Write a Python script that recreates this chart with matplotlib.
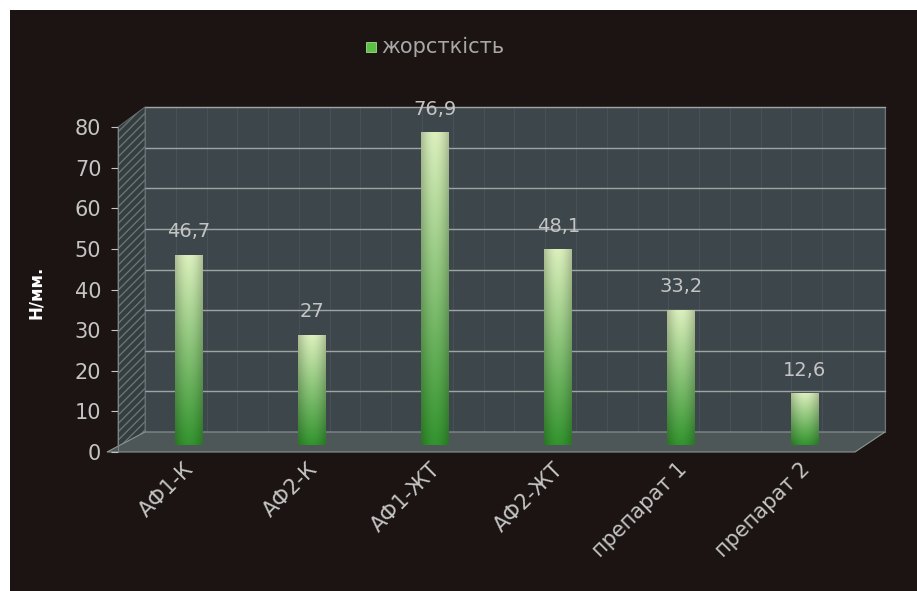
import numpy as np
import matplotlib
matplotlib.use("Agg")
import matplotlib.pyplot as plt
from matplotlib.transforms import ScaledTranslation, IdentityTransform
from matplotlib.patches import Polygon, Rectangle

# -------- data ---------------------------------------------------------
categories = ["АФ1-К", "АФ2-К", "АФ1-ЖТ", "АФ2-ЖТ", "препарат 1", "препарат 2"]
values = [46.7, 27, 76.9, 48.1, 33.2, 12.6]
value_labels = ["46,7", "27", "76,9", "48,1", "33,2", "12,6"]
yticks = [0, 10, 20, 30, 40, 50, 60, 70, 80]
series_name = "жорсткість"
ylabel = "Н/мм."

# -------- style --------------------------------------------------------
BG = "#1b1412"
WALL = "#3d474b"
FLOOR = "#4d5758"
GRID = "#9ea4a4"
TXT = "#c4c4c4"
plt.rcParams["font.family"] = ["DejaVu Sans"]

fig = plt.figure(figsize=(9.17, 5.91), dpi=100, facecolor="white")
# dark panel (white margin on top / left as in the scan)
fig.patches.append(Rectangle((0.011, 0.0), 0.989, 0.983, transform=fig.transFigure,
                             facecolor=BG, edgecolor="none", zorder=-10))

W, H = 917, 591
ax = fig.add_axes([118 / W, (H - 452) / H, (858 - 118) / W, (452 - 127) / H])
ax.set_facecolor("none")
ax.set_xlim(-0.47, 5.54)
ax.set_ylim(0, 80)
for s in ax.spines.values():
    s.set_visible(False)

px = fig.dpi_scale_trans
dx, dy = 27, 20
back = ax.transData + ScaledTranslation(dx / 100, dy / 100, px)
back_ax = ax.transAxes + ScaledTranslation(dx / 100, dy / 100, px)
bar_tr = ax.transData + ScaledTranslation(13 / 100, 7 / 100, px)

# back wall
ax.add_patch(Rectangle((0, 0), 1, 1, transform=back_ax, facecolor=WALL,
                       edgecolor="#6a7474", lw=0.8, zorder=0, clip_on=False))
# faint vertical texture lines on the wall
x0, x1 = ax.get_xlim()
for xv in np.arange(x0, x1, 0.25):
    ax.plot([xv, xv], [0, 80], transform=back, color="#56616a", lw=0.5,
            zorder=0.5, clip_on=False, alpha=0.6)
# horizontal gridlines on the wall
for yv in yticks[1:]:
    ax.plot([x0, x1], [yv, yv], transform=back, color=GRID, lw=1.0,
            zorder=1, clip_on=False)

# left side wall (hatched) and floor, in pixel coordinates
to_px = lambda xa, ya: ax.transAxes.transform((xa, ya))
p0 = to_px(0, 0)
p1 = to_px(0, 1)
side = Polygon([p0, p1, (p1[0] + dx, p1[1] + dy), (p0[0] + dx, p0[1] + dy)],
               closed=True, transform=IdentityTransform(), facecolor="#343d40",
               edgecolor="#6a7473", hatch="////", lw=0.6, zorder=1.2,
               clip_on=False)
ax.add_patch(side)
q1 = to_px(1, 0)
floor = Polygon([(p0[0] - 11, p0[1]), (q1[0] - 3, q1[1]),
                 (q1[0] + dx, q1[1] + dy), (p0[0] + dx, p0[1] + dy)],
                closed=True, transform=IdentityTransform(), facecolor=FLOOR,
                edgecolor="#8c9494", lw=0.8, zorder=1.5, clip_on=False)
ax.add_patch(floor)

# bars with gradient
bw = 0.227
t = np.linspace(0, 1, 120)[:, None]
u = np.linspace(0, 1, 24)[None, :]
bottom = np.array([0.20, 0.58, 0.18])
top = np.array([0.86, 0.94, 0.74])
shade = 0.80 + 0.20 * np.sin(np.pi * u)
for i, v in enumerate(values):
    img = bottom[None, None, :] * (1 - t[..., None]) + top[None, None, :] * t[..., None]
    img = np.clip(img * shade[..., None], 0, 1)
    ax.imshow(img, extent=(i - bw / 2, i + bw / 2, 0, v), origin="lower",
              aspect="auto", transform=bar_tr, zorder=3, clip_on=False,
              interpolation="bilinear")
    ax.text(i, v, value_labels[i], transform=bar_tr + ScaledTranslation(0, 0.14, px),
            ha="center", va="bottom", color=TXT, fontsize=14, zorder=4)

ax.set_xlim(-0.47, 5.54)
ax.set_ylim(0, 80)

# axes
ax.set_yticks(yticks)
ax.tick_params(axis="y", colors=TXT, labelsize=15, length=5, width=0.8, pad=7,
               labelcolor=TXT)
ax.spines["left"].set_visible(True)
ax.spines["left"].set_color("#7a8282")
ax.spines["left"].set_zorder(2)
ax.set_xticks(range(len(categories)))
ax.set_xticklabels(categories, rotation=45, ha="right", rotation_mode="anchor",
                   color=TXT, fontsize=15)
ax.tick_params(axis="x", length=0, pad=5)
for lbl in ax.get_xticklabels():
    lbl.set_transform(lbl.get_transform() + ScaledTranslation(0.08, 0, px))

fig.text(36 / W, 1 - 292 / H, ylabel, rotation=90, ha="center", va="center",
         color="white", fontsize=12, fontweight="bold")

# legend
fig.patches.append(Rectangle((366 / W, 1 - 52 / H), 10 / W, 10 / H,
                             transform=fig.transFigure, facecolor="#5cc046",
                             edgecolor="#a0e090", lw=0.6))
fig.text(381 / W, 1 - 47 / H, series_name, ha="left", va="center",
         color="#a8a8a8", fontsize=15)

fig.savefig("out.png", dpi=100, facecolor=fig.get_facecolor())
